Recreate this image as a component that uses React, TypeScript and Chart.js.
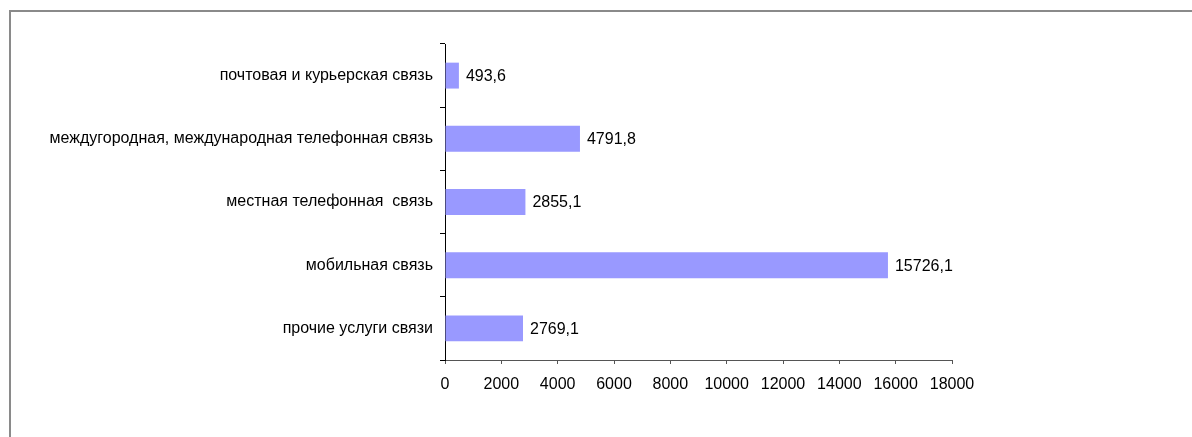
import React, { useEffect, useRef } from "react";
import { Chart, registerables } from "chart.js";

Chart.register(...registerables);

const categories = [
  "почтовая и курьерская связь",
  "междугородная, международная телефонная связь",
  "местная телефонная  связь",
  "мобильная связь",
  "прочие услуги связи",
];
const values = [493.6, 4791.8, 2855.1, 15726.1, 2769.1];
const xMin = 0;
const xMax = 18000;
const xStep = 2000;

const FONT = "'Liberation Sans', Arial, sans-serif";
const FS = 16;

const valueLabels = {
  id: "valueLabels",
  afterDatasetsDraw(chart: any) {
    const ctx = chart.ctx;
    const meta = chart.getDatasetMeta(0);
    ctx.save();
    ctx.font = `${FS}px ${FONT}`;
    ctx.fillStyle = "#000";
    ctx.textAlign = "left";
    ctx.textBaseline = "middle";
    meta.data.forEach((el: any, i: number) => {
      const v = values[i];
      const txt = v.toFixed(1).replace(".", ",");
      ctx.fillText(txt, el.x + 7, el.y + 1);
    });
    ctx.restore();
  },
};

export default function App() {
  const ref = useRef<HTMLCanvasElement | null>(null);
  useEffect(() => {
    if (!ref.current) return;
    const chart = new Chart(ref.current, {
      type: "bar",
      data: {
        labels: categories,
        datasets: [
          {
            data: values,
            backgroundColor: "#9999FF",
            borderWidth: 0,
            barPercentage: 0.41,
            categoryPercentage: 1,
          },
        ],
      },
      options: {
        indexAxis: "y",
        animation: false,
        responsive: false,
        maintainAspectRatio: false,
        layout: { padding: { top: 44, right: 240, bottom: 0, left: 0 } },
        plugins: {
          legend: { display: false },
          tooltip: { enabled: false },
          title: { display: false },
        },
        scales: {
          x: {
            min: xMin,
            max: xMax,
            ticks: {
              stepSize: xStep,
              color: "#000",
              font: { family: FONT, size: FS },
              padding: 11,
              maxRotation: 0,
              autoSkip: false,
              callback: (v: any) => String(v),
            },
            grid: {
              drawOnChartArea: false,
              drawTicks: true,
              tickLength: 4,
              color: "#555",
            },
            border: { display: true, color: "#555", width: 1 },
            afterFit: (s: any) => {
              s.height = 77;
            },
          },
          y: {
            ticks: {
              color: "#000",
              font: { family: FONT, size: FS },
              padding: 7,
              autoSkip: false,
            },
            grid: {
              drawOnChartArea: false,
              drawTicks: true,
              tickLength: 5,
              color: "#000",
              offset: true,
            },
            border: { display: true, color: "#000", width: 1 },
            afterFit: (s: any) => {
              s.width = 445;
            },
          },
        },
      },
      plugins: [valueLabels],
    });
    return () => chart.destroy();
  }, []);
  return (
    <div
      style={{
        position: "fixed",
        left: 0,
        top: 0,
        width: 1192,
        height: 437,
        background: "#fff",
        overflow: "hidden",
      }}
    >
      <div
        style={{
          position: "absolute",
          left: 9,
          top: 10,
          width: 1300,
          height: 500,
          borderLeft: "2px solid #8a8a8a",
          borderTop: "2px solid #8a8a8a",
        }}
      />
      <canvas
        ref={ref}
        width={1192}
        height={437}
        style={{ position: "absolute", left: 0, top: 0, width: 1192, height: 437 }}
      />
    </div>
  );
}
